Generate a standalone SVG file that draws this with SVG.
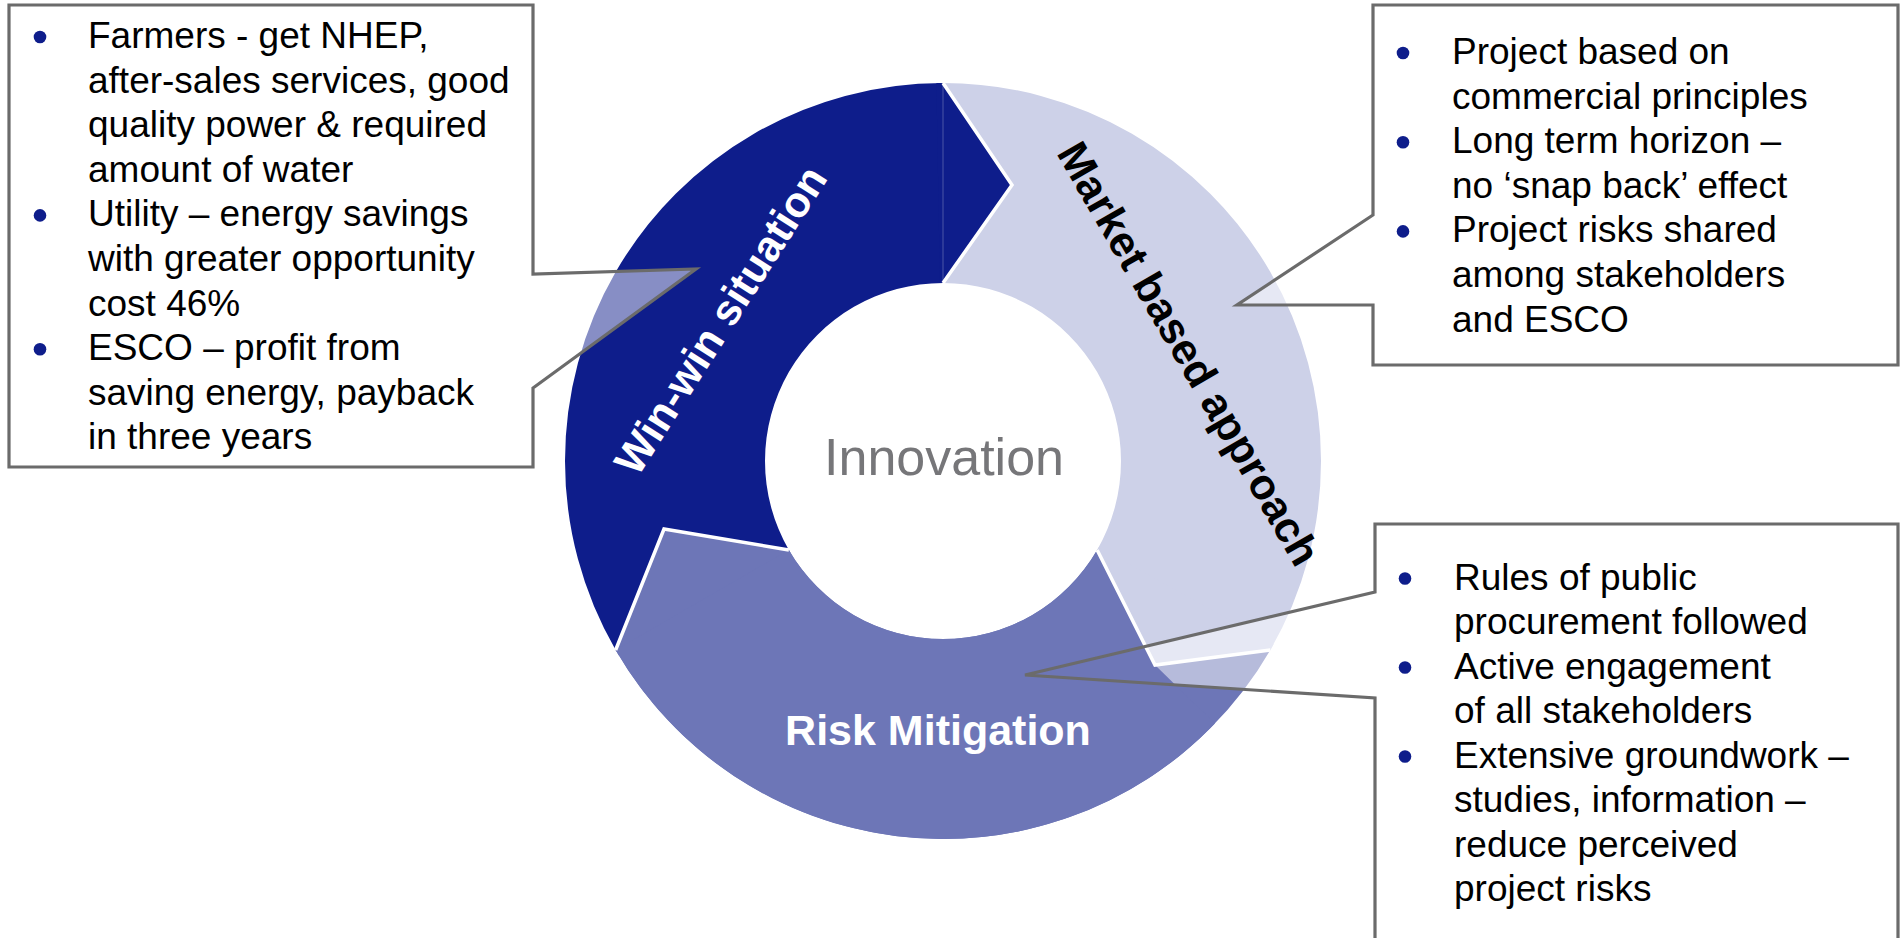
<svg xmlns="http://www.w3.org/2000/svg" width="1903" height="938" viewBox="0 0 1903 938">
  <style>
    .dark { fill: #0e1d8b; }
    .light { fill: #cdd1e8; }
    .mid { fill: #6d76b7; }
    .veil { fill: #ffffff; fill-opacity: 0.5; stroke: none; }
    .frame { fill: none; stroke: #6b6b6b; stroke-width: 3.2; stroke-linejoin: miter; }
    .edge { fill: none; stroke: #ffffff; stroke-width: 3.5; stroke-linejoin: miter; }
    .body { font-family: "Liberation Sans", Arial, sans-serif; font-size: 37px; fill: #000000; }
    .seg { font-family: "Liberation Sans", Arial, sans-serif; font-weight: bold; font-size: 43px; }
    .dot { fill: #0e1d8b; }
  </style>
  <rect width="1903" height="938" fill="#ffffff"/>

  <!-- Ring: three 120-degree sectors, centre (943,461), radii 378 / 178 -->
  <g id="ring">
    <path id="sector-winwin" class="dark" d="M615.64,650 A378,378 0 0 1 943,83 L943,283 A178,178 0 0 0 788.85,550 Z"/>
    <path id="sector-market" class="light" d="M943,83 A378,378 0 0 1 1270.36,650 L1097.15,550 A178,178 0 0 0 943,283 Z"/>
    <path id="sector-risk" class="mid" d="M1270.36,650 A378,378 0 0 1 615.64,650 L788.85,550 A178,178 0 0 0 1097.15,550 Z"/>
    <!-- arrow heads pushing clockwise into the next sector -->
    <polygon class="dark" points="936.4,83.06 943,83 1012,185 943,283 939.9,283.03"/>
    <polygon class="light" points="1273.6,644.3 1270.36,650 1155,665 1097.15,550 1098.7,547.3"/>
    <polygon class="mid" points="790.4,552.7 788.85,550 664,529 615.64,650 619,655.7"/>
  </g>

  <!-- Callout fills (translucent white) -->
  <g id="callout-fills">
    <path class="veil" d="M9,5 H533 V274 L696,269 L533,388 V467 H9 Z"/>
    <path class="veil" d="M1373,5 H1898 V365 H1373 V305 L1237,305 L1373,215 Z"/>
    <path class="veil" d="M1375,524 H1898 V950 H1375 V698 L1025,675 L1375,592 Z"/>
  </g>

  <!-- Risk arrow body sits above the risk callout fill -->
  <path id="risk-body" class="mid" d="M1155,665 L1214.9,723.6 A378,378 0 0 1 615.64,650 L788.85,550 A178,178 0 0 0 1097.15,550 Z"/>

  <!-- white outlines of the arrow heads -->
  <g id="head-edges">
    <line x1="943" y1="85" x2="943" y2="282" stroke="#4b57a6" stroke-width="1"/>
    <polyline class="edge" points="943,83 1012,185 943,283"/>
    <polyline class="edge" points="1097.15,550 1155,665 1270.36,650"/>
    <polyline class="edge" points="788.85,550 664,529 615.64,650"/>
  </g>

  <!-- Segment labels -->
  <g id="label-winwin">
    <text class="seg" fill="#ffffff" text-anchor="middle" transform="translate(733,328) rotate(-57.5)">Win-win situation</text>
  </g>
  <g id="label-market">
    <text class="seg" fill="#000000" text-anchor="middle" transform="translate(1176,361) rotate(60)">Market based approach</text>
  </g>
  <g id="label-risk">
    <text class="seg" fill="#ffffff" text-anchor="middle" x="938" y="745" font-size="42">Risk Mitigation</text>
  </g>
  <g id="centre">
    <text x="944" y="475" text-anchor="middle" font-family="Liberation Sans, Arial, sans-serif" font-size="52" fill="#767679">Innovation</text>
  </g>

  <!-- Connectors: callout outlines with pointers into the ring -->
  <g id="connectors">
    <path class="frame" d="M9,5 H533 V274 L696,269 L533,388 V467 H9 Z"/>
    <path class="frame" d="M1373,5 H1898 V365 H1373 V305 L1237,305 L1373,215 Z"/>
    <path class="frame" d="M1375,524 H1898 V950 H1375 V698 L1025,675 L1375,592 Z"/>
  </g>

  <!-- Callout texts -->
  <g id="callout-winwin">
    <circle class="dot" cx="40" cy="37" r="6.3"/>
    <circle class="dot" cx="40" cy="215.4" r="6.3"/>
    <circle class="dot" cx="40" cy="349.2" r="6.3"/>
    <text class="body">
      <tspan x="88" y="48">Farmers - get NHEP,</tspan>
      <tspan x="88" y="92.6">after-sales services, good</tspan>
      <tspan x="88" y="137.2">quality power &amp; required</tspan>
      <tspan x="88" y="181.8">amount of water</tspan>
      <tspan x="88" y="226.4">Utility – energy savings</tspan>
      <tspan x="88" y="271">with greater opportunity</tspan>
      <tspan x="88" y="315.6">cost 46%</tspan>
      <tspan x="88" y="360.2">ESCO – profit from</tspan>
      <tspan x="88" y="404.8">saving energy, payback</tspan>
      <tspan x="88" y="449.4">in three years</tspan>
    </text>
  </g>
  <g id="callout-market">
    <circle class="dot" cx="1403" cy="53" r="6.3"/>
    <circle class="dot" cx="1403" cy="142.2" r="6.3"/>
    <circle class="dot" cx="1403" cy="231.4" r="6.3"/>
    <text class="body">
      <tspan x="1452" y="64">Project based on</tspan>
      <tspan x="1452" y="108.6">commercial principles</tspan>
      <tspan x="1452" y="153.2">Long term horizon –</tspan>
      <tspan x="1452" y="197.8">no ‘snap back’ effect</tspan>
      <tspan x="1452" y="242.4">Project risks shared</tspan>
      <tspan x="1452" y="287">among stakeholders</tspan>
      <tspan x="1452" y="331.6">and ESCO</tspan>
    </text>
  </g>
  <g id="callout-risk">
    <circle class="dot" cx="1405" cy="578.5" r="6.3"/>
    <circle class="dot" cx="1405" cy="667.5" r="6.3"/>
    <circle class="dot" cx="1405" cy="756.5" r="6.3"/>
    <text class="body">
      <tspan x="1454" y="589.5">Rules of public</tspan>
      <tspan x="1454" y="634">procurement followed</tspan>
      <tspan x="1454" y="678.5">Active engagement</tspan>
      <tspan x="1454" y="723">of all stakeholders</tspan>
      <tspan x="1454" y="767.5">Extensive groundwork –</tspan>
      <tspan x="1454" y="812">studies, information –</tspan>
      <tspan x="1454" y="856.5">reduce perceived</tspan>
      <tspan x="1454" y="901">project risks</tspan>
    </text>
  </g>
</svg>
